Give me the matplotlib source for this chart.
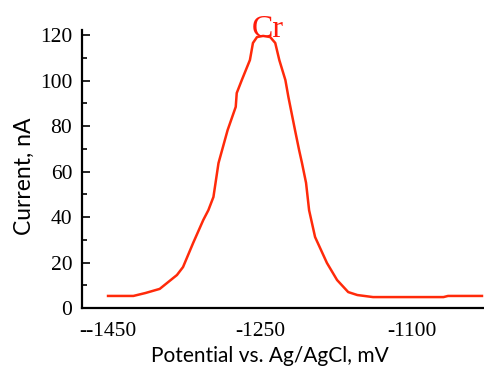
import matplotlib
matplotlib.use('Agg')
from matplotlib import pyplot as plt
from matplotlib.ticker import MultipleLocator

# potential (mV) and current (nA)
potential = [-1400, -1375, -1363, -1349, -1332, -1326, -1316, -1306, -1301, -1296,
             -1291, -1282, -1274, -1273, -1268, -1260, -1257, -1253, -1247, -1240,
             -1235, -1231, -1225, -1222, -1215.5, -1211.5, -1208.6, -1204.6, -1201.6,
             -1195.7, -1184, -1174, -1163, -1154, -1138.5, -1069, -1064.5, -1031]
current = [5.3, 5.3, 6.6, 8.4, 14.5, 18, 28.6, 38.7, 43, 48.8,
           63.7, 78.2, 88.4, 94.5, 100.2, 109, 116.5, 119.1, 119.6, 119.1,
           116.5, 109, 100.2, 92.7, 78.2, 69.5, 63.7, 55, 43,
           31.2, 19.8, 12.3, 7, 5.7, 4.8, 4.8, 5.3, 5.3]

xtick_pos = [-1400, -1250, -1100]
xtick_labels = ['--1450', '-1250', '-1100']
ytick_pos = [0, 20, 40, 60, 80, 100, 120]

serif = ['Liberation Serif', 'DejaVu Serif']

fig = plt.figure(figsize=(4.84, 3.70), dpi=100)
ax = fig.add_axes([82 / 484, 62 / 370, 1 - 82 / 484, 278 / 370])

ax.plot(potential, current, color='#ff2a0a', linewidth=1.8)

ax.set_xlim(-1425.7, -1029)
ax.set_ylim(0, 122.2)

ax.spines['top'].set_visible(False)
ax.spines['right'].set_visible(False)
ax.spines['left'].set_linewidth(1.6)
ax.spines['bottom'].set_linewidth(1.6)

ax.set_yticks(ytick_pos)
ax.set_yticklabels([str(v) for v in ytick_pos])
ax.yaxis.set_minor_locator(MultipleLocator(10))
ax.tick_params(axis='y', which='major', direction='in', length=6, width=1.2, pad=7,
               labelsize=15.5, labelfontfamily=serif)
ax.tick_params(axis='y', which='minor', direction='in', length=3.5, width=1.2)

ax.set_xticks(xtick_pos)
ax.set_xticklabels(xtick_labels)
ax.tick_params(axis='x', length=0, pad=10, labelsize=15.5, labelfontfamily=serif)

fig.text(270 / 484, 1 - 356 / 370, 'Potential vs. Ag/AgCl, mV', ha='center', va='center',
         family=['Lato', 'DejaVu Sans'], fontsize=15)
fig.text(24 / 484, 1 - 176 / 370, 'Current, nA', ha='center', va='center', rotation=90,
         family=['Lato', 'DejaVu Sans'], fontsize=16.5)

ax.text(-1242, 119.2, 'Cr', color='#ff1a0a', family=serif, fontsize=23,
        ha='center', va='baseline')

fig.savefig('out.png', dpi=100)
